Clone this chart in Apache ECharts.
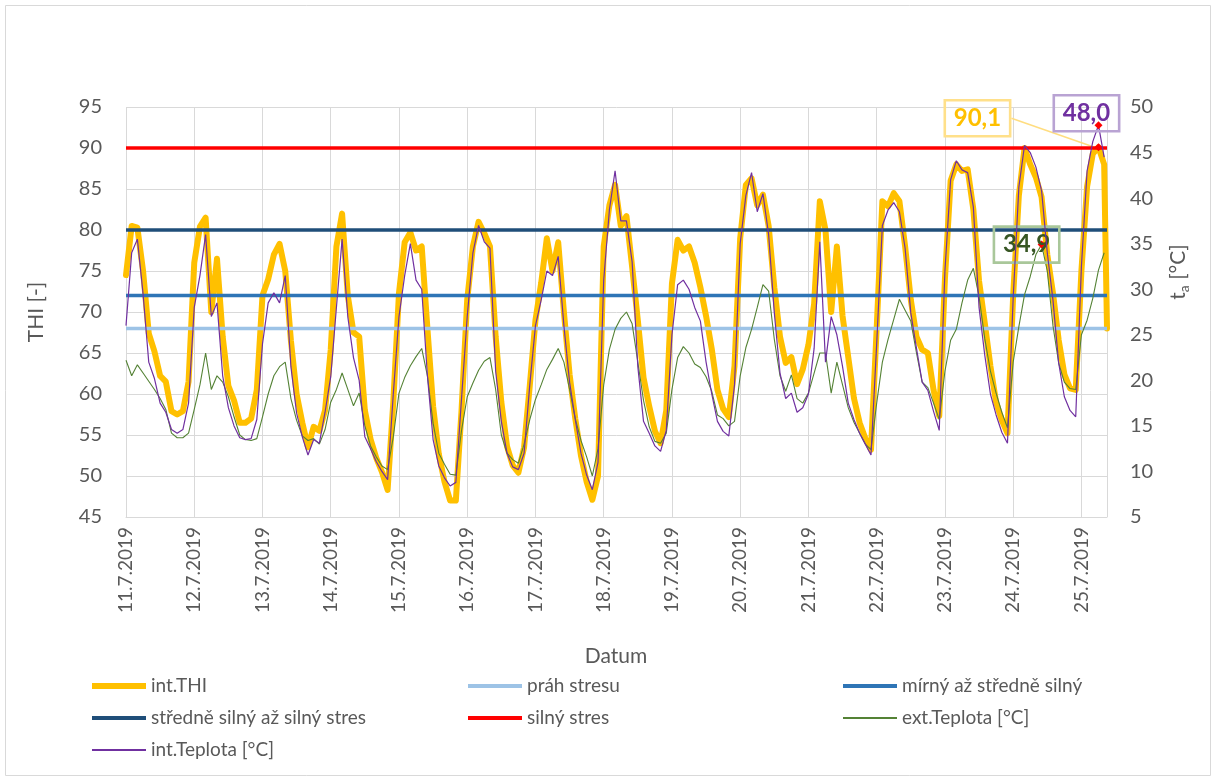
<!DOCTYPE html>
<html>
<head>
<meta charset="utf-8">
<script src="https://cdn.jsdelivr.net/npm/echarts@6/dist/echarts.min.js"></script>
<style>
html,body{margin:0;padding:0;background:#ffffff;}
#chart{width:1216px;height:781px;}
</style>
</head>
<body>
<div id="chart"></div>
<script>
// ---------- DATA ----------
// x axis: hours since 11.7.2019 00:00, one sample every 2 hours
const STEP_HOURS = 2;
const dayLabels = ['11.7.2019','12.7.2019','13.7.2019','14.7.2019','15.7.2019','16.7.2019','17.7.2019',
  '18.7.2019','19.7.2019','20.7.2019','21.7.2019','22.7.2019','23.7.2019','24.7.2019','25.7.2019'];
const lastHour = 345;

// int.THI [-] (left axis)
const thi = [
  74.5, 80.5, 80.3, 75, 67.4, 65.2, 62.2, 61.5, 57.9, 57.5, 57.9, 61.5,
  76, 80.4, 81.5, 70, 76.5, 67, 61, 59.2, 56.5, 56.5, 57, 60.5,
  72, 74, 77, 78.3, 75, 66.5, 60, 56.5, 53.5, 56, 55.5, 58,
  65.4, 78, 82, 72, 67.5, 67, 58, 54.5, 52.2, 50.5, 48.3, 59,
  72.3, 78.5, 79.7, 77.5, 78, 68, 58.5, 52.7, 49.3, 47, 47, 58,
  71.5, 78, 81, 79.6, 78, 67, 59, 53.6, 51.3, 50.4, 53.5, 61,
  69, 73.5, 79, 75, 78.5, 70, 62.4, 57, 52.5, 49.3, 47.1, 50,
  78, 83, 85.5, 80.5, 81.7, 75.5, 69, 62, 58.5, 55.5, 54, 58,
  73.5, 78.8, 77.5, 78, 76, 73, 69.5, 65.5, 60.5, 58.2, 57.2, 63.4,
  79, 85.5, 86.3, 83, 84.3, 80.5, 73, 67, 63.8, 64.5, 61.2, 63,
  66, 71, 83.5, 80, 70, 78, 69.5, 64.5, 59.5, 56.5, 54.6, 53.2,
  68, 83.5, 82.9, 84.5, 83.5, 78, 71.5, 67, 65.4, 65, 60.5, 57.3,
  74, 86, 88, 87.2, 87.4, 82.5, 73.8, 68.7, 63.4, 59, 56.8, 55.2,
  72, 84.2, 90, 88, 86.4, 84, 77, 72.3, 66.6, 62.4, 60.7, 60.5,
  75, 85.3, 89.3, 90.1, 88
];
const thiLast = 68;   // value at lastHour

// int.Teplota [°C] (right axis)
const intTemp = [
  26, 34, 35.5, 29.5, 22, 20.2, 17.5, 16.5, 14.6, 14.2, 14.6, 17.5,
  28, 31.5, 36, 27, 28.5, 20.5, 17, 15, 13.7, 13.5, 13.6, 15.7,
  24, 28.5, 29.6, 28.5, 31.5, 21.5, 16.4, 13.8, 11.8, 13.5, 13.1, 16.5,
  20.4, 28, 35.5, 27, 22.5, 20, 13.8, 12.5, 11.1, 10, 9.1, 18.5,
  27, 31.5, 35, 31, 30, 20.5, 13.5, 10.6, 9.3, 8.4, 8.8, 18,
  27, 34, 37, 35.2, 34.5, 21, 15.5, 12, 10.5, 10.2, 12, 19.5,
  26, 28.8, 32, 31.5, 33.6, 26, 19.8, 15.7, 12, 9.6, 8, 11,
  31, 38.7, 43, 37.5, 37.5, 33, 21.5, 15.5, 14.2, 12.8, 12.2, 14.5,
  25, 30.5, 31, 30, 28, 26.5, 22, 18.5, 15.5, 14.4, 13.9, 19.5,
  35, 40.3, 42.8, 38.5, 40.5, 36, 27.4, 20.8, 18, 18.6, 16.5, 17,
  18.5, 23.5, 35.2, 22, 27, 25, 21.5, 17.5, 15.7, 14.2, 13, 11.8,
  24, 37, 38.7, 39.5, 38.5, 34.5, 27.4, 23.5, 19.8, 18.9, 16.6, 14.5,
  32, 42, 44.1, 43.1, 42.8, 39, 28, 22.8, 18.5, 16.2, 14.3, 13.1,
  29, 41.2, 45.8, 45, 43.4, 40.8, 34, 28.8, 21.9, 18.2, 16.7, 16,
  32.5, 43, 46.2, 48.0, 44.5
];

// ext.Teplota [°C] (right axis)
const extTemp = [
  22.2, 20.5, 21.7, 20.8, 19.9, 19, 18, 16.8, 14.2, 13.7, 13.7, 14.2,
  16.8, 19.5, 23, 19, 20.5, 19.8, 18.2, 16, 14, 13.5, 13.4, 13.6,
  16, 18.5, 20.5, 21.5, 22, 18, 15.6, 13.9, 13.4, 13.6, 13, 14.6,
  17.6, 19, 20.8, 19, 17.2, 18.6, 15, 12.8, 11.6, 10.6, 10.2, 13.8,
  18.6, 20.3, 21.6, 22.6, 23.5, 20.5, 15.3, 12, 10.8, 9.7, 9.6, 14.5,
  18.2, 19.7, 21.1, 22.1, 22.5, 19, 14, 12, 11.3, 10.9, 13, 15.7,
  17.9, 19.5, 21.2, 22.3, 23.5, 22, 19, 15.8, 13.4, 11.6, 9.5, 12.5,
  19.5, 23.4, 25.6, 26.8, 27.5, 26.2, 22, 17.8, 14.9, 13.3, 13.1, 14.2,
  19, 22.5, 23.7, 23, 21.8, 21.4, 20.4, 18.8, 16.2, 15.8, 15, 15.5,
  20.5, 23.6, 25.6, 28, 30.5, 29.8, 24.5, 20.5, 18.8, 20.6, 18, 17.5,
  18.6, 20.8, 23, 23, 18.6, 22, 19.5, 17, 15.4, 14.2, 13, 12.4,
  17.5, 22, 24.5, 26.7, 28.9, 27.7, 26.5, 23, 19.8, 19.2, 17.5, 15.7,
  21, 24.4, 25.6, 28.5, 31, 32.3, 29.2, 24.6, 21, 18.6, 16.5, 14.8,
  22, 25.9, 29.4, 31.4, 33.8, 34.9, 32, 26, 21.9, 19.8, 19.1, 19,
  25, 26.6, 29, 32.1, 34
];

// THI stress thresholds
const thresholdNames  = ['práh stresu', 'mírný až středně silný', 'středně silný až silný stres', 'silný stres'];
const thresholdValues = [68, 72, 80, 90];
const thresholdColors = ['#9DC3E6', '#2E75B6', '#1F4E79', '#FF0000'];

// ---------- CHART ----------
const FONT = 'Lato, "Open Sans", sans-serif';
const TXT = '#595959';
const GRIDC = '#D9D9D9';

function toPoints(arr) { return arr.map((v, i) => [i * STEP_HOURS, v]); }
function fmt(v) { return v.toFixed(1).replace('.', ','); }
function markMax(points, color, borderColor, padding) {
  let mi = 0;
  points.forEach((p, i) => { if (p[1] > points[mi][1]) mi = i; });
  points[mi] = {
    value: points[mi],
    symbol: 'diamond', symbolSize: 8,
    itemStyle: { color: '#FF0000' },
    label: {
      show: true, position: 'inside',
      formatter: (p) => fmt(p.value[1]),
      color: color, fontFamily: FONT, fontWeight: 'bold', fontSize: 24,
      borderColor: borderColor, borderWidth: 1.3, padding: padding,
      backgroundColor: 'transparent'
    }
  };
  return points;
}

const thiPts = toPoints(thi);
thiPts.push([lastHour, thiLast]);
markMax(thiPts, '#FFC000', '#FFE08A', [7, 9, 5, 9]);
const intPts = markMax(toPoints(intTemp), '#7030A0', '#B9A3D3', [7, 9, 5, 9]);
const extPts = markMax(toPoints(extTemp), '#375623', '#A9C79A', [7, 9, 5, 9]);

const series = [];
series.push({
  name: 'int.THI', type: 'line', yAxisIndex: 0, data: thiPts,
  symbol: 'none', showSymbol: true,
  lineStyle: { color: '#FFC000', width: 6, cap: 'round', join: 'round' },
  itemStyle: { color: '#FFC000' },
  labelLayout: { dx: -121, dy: -29 },
  labelLine: { show: true, lineStyle: { color: '#FFDD80', width: 1.5 } },
  animation: false, z: 2
});
thresholdNames.forEach((n, k) => {
  series.push({
    name: n, type: 'line', yAxisIndex: 0,
    data: [[0, thresholdValues[k]], [lastHour, thresholdValues[k]]],
    symbol: 'none',
    lineStyle: { color: thresholdColors[k], width: 3.5 },
    itemStyle: { color: thresholdColors[k] },
    animation: false, z: 3
  });
});
series.push({
  name: 'ext.Teplota [°C]', type: 'line', yAxisIndex: 1, data: extPts,
  symbol: 'none', showSymbol: true,
  lineStyle: { color: '#548235', width: 1.1 },
  itemStyle: { color: '#548235' },
  labelLayout: { dx: -15, dy: 0 },
  animation: false, z: 4
});
series.push({
  name: 'int.Teplota [°C]', type: 'line', yAxisIndex: 1, data: intPts,
  symbol: 'none', showSymbol: true,
  lineStyle: { color: '#7030A0', width: 1.2 },
  itemStyle: { color: '#7030A0' },
  labelLayout: { dx: -12, dy: -12 },
  animation: false, z: 5
});

// legend: one component per entry (3 columns x 3 rows grid as in the original)
const legendItems = [
  { name: 'int.THI', col: 0, row: 0, thick: 6 },
  { name: 'práh stresu', col: 1, row: 0, thick: 4 },
  { name: 'mírný až středně silný', col: 2, row: 0, thick: 4 },
  { name: 'středně silný až silný stres', col: 0, row: 1, thick: 4 },
  { name: 'silný stres', col: 1, row: 1, thick: 4 },
  { name: 'ext.Teplota [°C]', col: 2, row: 1, thick: 2 },
  { name: 'int.Teplota [°C]', col: 0, row: 2, thick: 2 }
];
const legendColX = [92, 468, 843];
const legendRowTop = [676, 708, 740];
const legends = legendItems.map((it) => ({
  orient: 'horizontal', left: legendColX[it.col], top: legendRowTop[it.row],
  itemWidth: 54, itemHeight: it.thick, icon: 'rect', padding: 0, selectedMode: false,
  data: [it.name],
  textStyle: { color: TXT, fontFamily: FONT, fontSize: 19, lineHeight: 20 }
}));

const option = {
  backgroundColor: '#ffffff',
  animation: false,
  textStyle: { fontFamily: FONT },
  grid: { left: 126, top: 107, width: 981, height: 410, containLabel: false, outerBoundsMode: 'none' },
  xAxis: {
    type: 'value', min: 0, max: lastHour, interval: 24,
    axisLine: { show: true, lineStyle: { color: GRIDC, width: 1 } },
    axisTick: { show: false },
    splitLine: { show: true, lineStyle: { color: GRIDC, width: 1 } },
    axisLabel: {
      rotate: 90, margin: 10, color: TXT, fontFamily: FONT, fontSize: 19,
      showMaxLabel: false,
      formatter: (v) => (v % 24 === 0 ? (dayLabels[v / 24] || '') : '')
    }
  },
  yAxis: [
    {
      type: 'value', min: 45, max: 95, interval: 5, position: 'left',
      axisLine: { show: false }, axisTick: { show: false },
      splitLine: { show: true, lineStyle: { color: GRIDC, width: 1 } },
      axisLabel: { margin: 24, color: TXT, fontFamily: FONT, fontSize: 20 }
    },
    {
      type: 'value', min: 5, max: 50, interval: 5, position: 'right',
      axisLine: { show: false }, axisTick: { show: false },
      splitLine: { show: false },
      axisLabel: { margin: 23, color: TXT, fontFamily: FONT, fontSize: 20 }
    }
  ],
  legend: legends,
  graphic: [
    { type: 'rect', silent: true, z: -10,
      shape: { x: 5.5, y: 5.5, width: 1205, height: 770 },
      style: { fill: 'none', stroke: GRIDC, lineWidth: 1 } },
    { type: 'text', x: 36, y: 312, rotation: Math.PI / 2, silent: true,
      style: { text: 'THI [-]', fill: TXT, fontFamily: FONT, fontSize: 21,
               align: 'center', verticalAlign: 'middle', textAlign: 'center', textVerticalAlign: 'middle' } },
    { type: 'text', x: 616, y: 656, silent: true,
      style: { text: 'Datum', fill: TXT, fontFamily: FONT, fontSize: 21,
               align: 'center', verticalAlign: 'middle', textAlign: 'center', textVerticalAlign: 'middle' } },
    { type: 'text', x: 1178, y: 272, rotation: Math.PI / 2, silent: true,
      style: { text: '{t|t}{s|a}{t| [°C]}', fill: TXT, fontFamily: FONT, fontSize: 21,
               align: 'center', verticalAlign: 'middle', textAlign: 'center', textVerticalAlign: 'middle',
               rich: {
                 t: { fontSize: 21, fill: TXT, color: TXT, fontFamily: FONT, lineHeight: 26, verticalAlign: 'middle' },
                 s: { fontSize: 14, fill: TXT, color: TXT, fontFamily: FONT, lineHeight: 26, verticalAlign: 'bottom', padding: [10, 0, 0, 0] }
               } } }
  ],
  series: series
};

const chart = echarts.init(document.getElementById('chart'), null, { renderer: 'canvas' });
chart.setOption(option);
</script>
</body>
</html>
